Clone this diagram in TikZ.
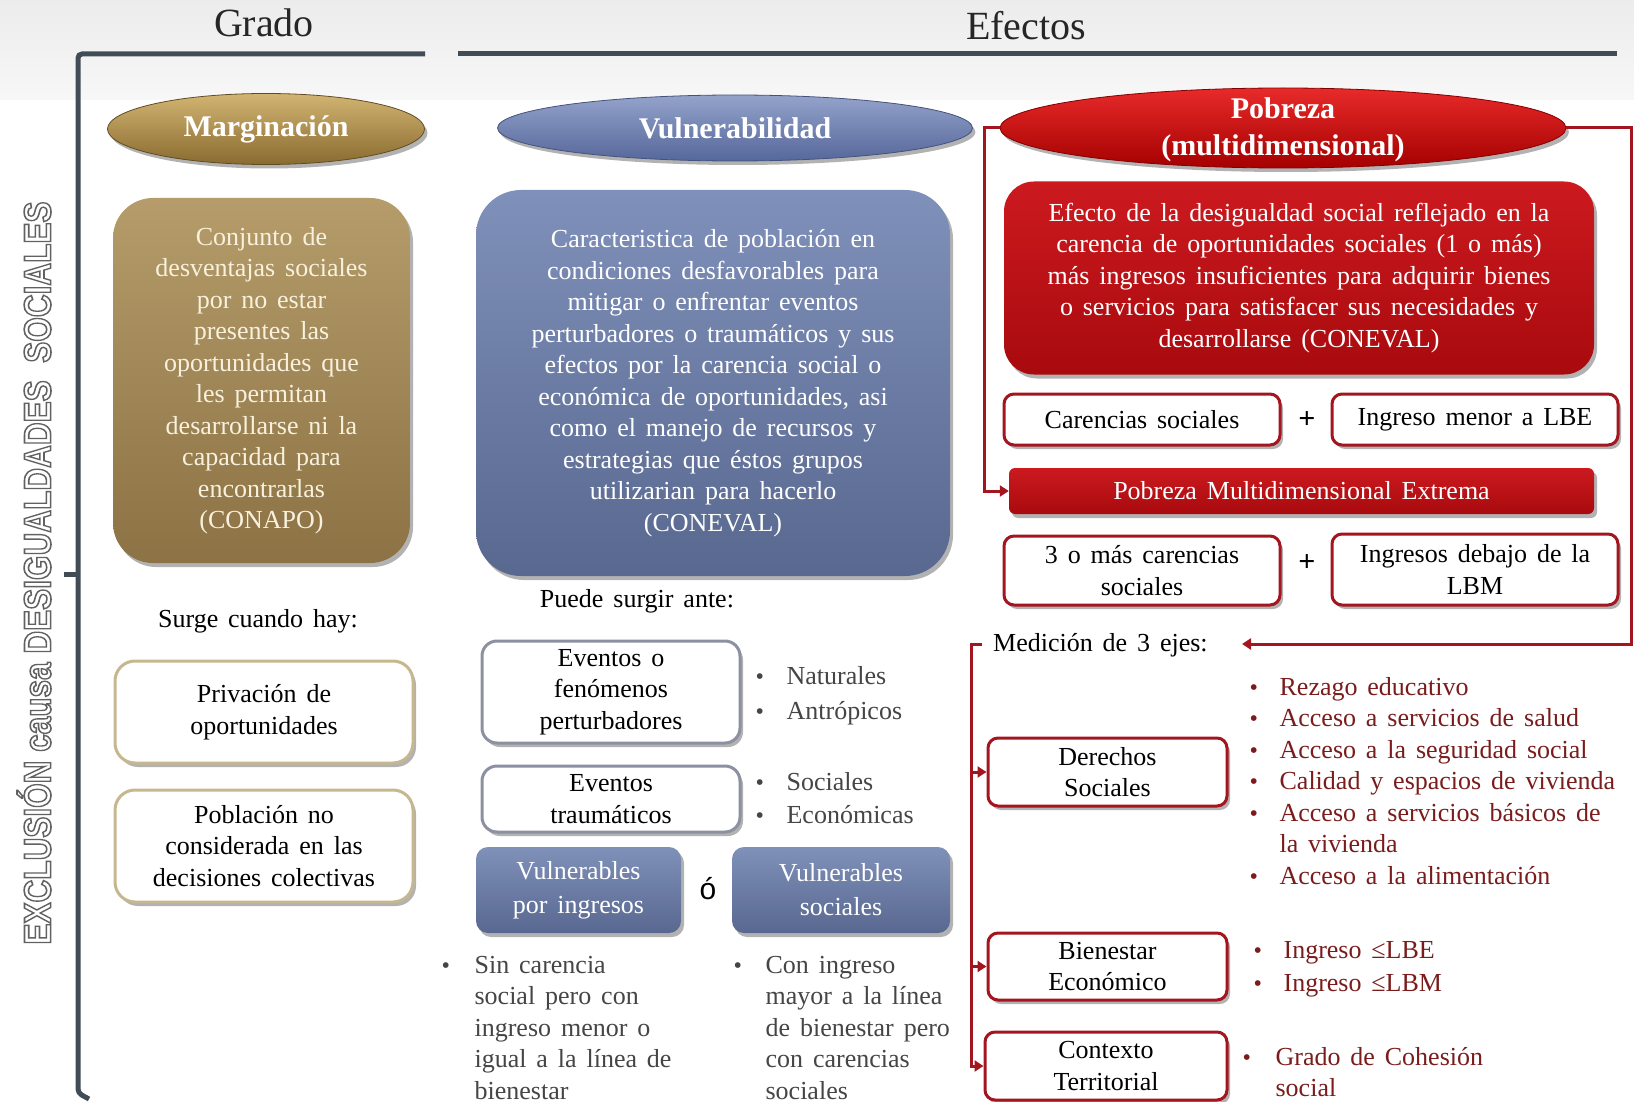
\documentclass[tikz,border=0pt]{standalone}
\usepackage{fontspec}
\usepackage{graphicx}
\setmainfont{Liberation Serif}
\newfontfamily\sansf{Liberation Sans}
\usetikzlibrary{shapes.geometric,shadows,arrows.meta,calc}
\definecolor{framec}{HTML}{414C57}
\definecolor{margL}{HTML}{D2B472}
\definecolor{margD}{HTML}{8A6B30}
\definecolor{margBL}{HTML}{B59C6A}
\definecolor{margBD}{HTML}{8C7244}
\definecolor{cream}{HTML}{F8F1DE}
\definecolor{vulL}{HTML}{93A3CB}
\definecolor{vulD}{HTML}{56679A}
\definecolor{vulBL}{HTML}{7F90BA}
\definecolor{vulBD}{HTML}{58688F}
\definecolor{redL}{HTML}{E82A2A}
\definecolor{redD}{HTML}{A50000}
\definecolor{redBL}{HTML}{CC1A1F}
\definecolor{redBD}{HTML}{A80A0E}
\definecolor{dred}{HTML}{A3151F}
\definecolor{btxt}{HTML}{7A1C1C}
\definecolor{gtxt}{HTML}{454545}
\definecolor{tanb}{HTML}{C6B78F}
\definecolor{blub}{HTML}{8C91A2}
\newcommand\outlinetext[1]{\special{pdf:literal direct 2 Tr 1.6 w 0.38 0.38 0.38 RG}#1\special{pdf:literal direct 0 Tr}}
\newcommand\bul{{\fontsize{24}{24}\selectfont\textbullet}}
\newcommand\widesp{\spaceskip=0.38em plus 0.1em\relax}
\begin{document}
\begin{tikzpicture}[x=1pt,y=-1pt,
  body/.style={font=\fontsize{26}{31.5}\selectfont\widesp, align=center, inner sep=0pt},
  title/.style={font=\fontsize{30}{34}\selectfont\bfseries, text=white, align=center, inner sep=0pt},
  shadowed/.style={drop shadow={shadow xshift=3pt, shadow yshift=-4pt, opacity=0.3, fill=black}},
  ell/.style={ellipse, inner sep=0pt, shadowed},
  frameline/.style={draw=framec, line width=5pt},
  redline/.style={draw=dred, line width=3pt},
  redarrow/.style={redline, -{Triangle[length=9pt,width=11pt]}},
  rbox/.style={body, draw=dred, fill=white, line width=3pt, rounded corners=10pt, shadowed},
  tanbox/.style={body, draw=tanb, fill=white, line width=3pt, rounded corners=20pt, shadowed},
  bbox/.style={body, draw=blub, fill=white, line width=3pt, rounded corners=15pt, shadowed},
  vbox/.style={body, font=\fontsize{26}{34}\selectfont\widesp, shadowed, rounded corners=12pt, top color=vulBL, bottom color=vulBD, text=white},
  plus/.style={font=\fontsize{30}{30}\selectfont\bfseries, inner sep=0pt},
  blist/.style={anchor=base west, inner sep=0pt, font=\fontsize{26}{31.5}\selectfont\widesp},
]
\useasboundingbox (0,0) rectangle (1634,1102);
\fill[top color=gray!15, bottom color=gray!6] (0,0) rectangle (1634,100);

% headers
\node[font=\fontsize{40}{44}\selectfont, text=black!85, inner sep=0pt] (grado) at (264,23) {Grado};
\node[font=\fontsize{40}{44}\selectfont, text=black!85, inner sep=0pt] (efectos) at (1026,26) {Efectos};

% frame
\draw[frameline, rounded corners=4pt] (425,54) -- (78,54) -- (78,1093) -- (89,1099);
\draw[frameline] (78,574) -- (64,574);
\draw[frameline] (458,54) -- (1617,54);

% vertical text
\node[rotate=90, font=\sansf\bfseries\fontsize{38}{40}\selectfont, text=white, inner sep=0pt] (excl) at (34,573) {\scalebox{0.83}[1]{\outlinetext{EXCLUSIÓN causa DESIGUALDADES\ \ SOCIALES}}};

% ellipses
\node[ell, title, minimum width=317pt, minimum height=71pt, top color=margL, bottom color=margD, draw=margD!70!black, line width=0.8pt] (margE) at (266,129) {Marginación};
\node[ell, title, minimum width=475pt, minimum height=66pt, top color=vulL, bottom color=vulD, draw=vulD!80!black, line width=0.8pt] (vulE) at (735,128) {Vulnerabilidad};
\node[ell, minimum width=566pt, minimum height=80pt, top color=redL, bottom color=redD, draw=redD!80!black, line width=0.8pt] (pobE) at (1283,128) {};
\node[title, font=\fontsize{30}{37}\selectfont\bfseries] (pobT) at (1283,130) {Pobreza\\(multidimensional)};

% definition boxes
\node[body, shadowed, rounded corners=40pt, top color=margBL, bottom color=margBD, text=cream, minimum width=297pt, minimum height=365pt] (margB) at (261.5,380.5) {Conjunto de\\desventajas sociales\\por no estar\\presentes las\\oportunidades que\\les permitan\\desarrollarse ni la\\capacidad para\\encontrarlas\\(CONAPO)};
\node[body, shadowed, rounded corners=45pt, top color=vulBL, bottom color=vulBD, text=white, minimum width=474pt, minimum height=386pt] (vulB) at (713,383) {Caracteristica de población en\\condiciones desfavorables para\\mitigar o enfrentar eventos\\perturbadores o traumáticos y sus\\efectos por la carencia social o\\económica de oportunidades, asi\\como el manejo de recursos y\\estrategias que éstos grupos\\utilizarian para hacerlo\\(CONEVAL)};
\node[body, shadowed, rounded corners=30pt, top color=redBL, bottom color=redBD, text=white, minimum width=590pt, minimum height=193pt] (pobB) at (1299,278) {Efecto de la desigualdad social reflejado en la\\carencia de oportunidades sociales (1 o más)\\más ingresos insuficientes para adquirir bienes\\o servicios para satisfacer sus necesidades y\\desarrollarse (CONEVAL)};

% poverty formulas
\node[rbox, minimum width=276pt, minimum height=51pt] (car) at (1142,419.5) {Carencias sociales};
\node[plus] (plus1) at (1307,420) {+};
\node[rbox, minimum width=286pt, minimum height=51pt] (ingE) at (1475,419.5) {Ingreso menor a LBE};
\node[body, shadowed, rounded corners=6pt, top color=redBL, bottom color=redBD, text=white, minimum width=585pt, minimum height=46pt] (ext) at (1301.5,491) {Pobreza Multidimensional Extrema};
\node[rbox, minimum width=276pt, minimum height=69pt] (tres) at (1142,570.5) {3 o más carencias\\sociales};
\node[plus] (plus2) at (1307,563) {+};
\node[rbox, minimum width=286pt, minimum height=71pt] (ingM) at (1475,569.5) {Ingresos debajo de la\\LBM};

% medicion
\node[body, anchor=west] (med) at (993,645) {Medición de 3 ejes:};
\coordinate (medTip) at (1242,644);
\coordinate (mStub) at (982,644);
\coordinate (mTop) at (971,644);
\node[rbox, minimum width=239pt, minimum height=68pt] (der) at (1107.5,772) {Derechos\\Sociales};
\node[rbox, minimum width=239pt, minimum height=67pt] (bien) at (1107.5,966.5) {Bienestar\\Económico};
\node[rbox, minimum width=242pt, minimum height=68pt] (ctx) at (1106,1066) {Contexto\\Territorial};

% red connectors
\draw[redarrow] (pobE.west) -- ++(-15,0) |- (ext.west);
\draw[redarrow] (pobE.east) -- ++(65,0) |- (medTip);
\draw[redarrow] (mStub) -- (mTop) |- (ctx.west);
\draw[redarrow] (der.west -| mTop) -- (der.west);
\draw[redarrow] (bien.west -| mTop) -- (bien.west);

% red bullet lists
\node[blist, text=btxt] (ejeA) at (1249.5,695) {\begin{tabular}[t]{@{}l@{\hspace{21.5pt}}l@{}}
\bul & Rezago educativo\\
\bul & Acceso a servicios de salud\\
\bul & Acceso a la seguridad social\\
\bul & Calidad y espacios de vivienda\\
\bul & Acceso a servicios básicos de\\
 & la vivienda\\
\bul & Acceso a la alimentación
\end{tabular}};
\node[blist, text=btxt] (ejeB) at (1253.5,958) {\begin{tabular}[t]{@{}l@{\hspace{21.5pt}}l@{}}
\bul & Ingreso ≤LBE\\[1.5pt]
\bul & Ingreso ≤LBM
\end{tabular}};
\node[blist, text=btxt] (ejeC) at (1242.5,1065) {\begin{tabular}[t]{@{}l@{\hspace{24.5pt}}l@{}}
\bul & Grado de Cohesión\\
 & social
\end{tabular}};

% left column
\node[body] (surge) at (258,621) {Surge cuando hay:};
\node[tanbox, minimum width=298pt, minimum height=102pt] (priv) at (264,712) {Privación de\\oportunidades};
\node[tanbox, minimum width=298pt, minimum height=112pt] (pobl) at (264,846) {Población no\\considerada en las\\decisiones colectivas};

% middle column
\node[body] (puede) at (637,601) {Puede surgir ante:};
\node[bbox, minimum width=258pt, minimum height=102pt] (evA) at (611,692) {Eventos o\\fenómenos\\perturbadores};
\node[bbox, minimum width=258pt, minimum height=66pt] (evB) at (611,799) {Eventos\\traumáticos};
\node[blist, text=gtxt] (natl) at (755.5,684) {\begin{tabular}[t]{@{}l@{\hspace{22.5pt}}l@{}}
\bul & Naturales\\[3.5pt]
\bul & Antrópicos
\end{tabular}};
\node[blist, text=gtxt] (socl) at (755.5,790) {\begin{tabular}[t]{@{}l@{\hspace{22.5pt}}l@{}}
\bul & Sociales\\[1.5pt]
\bul & Económicas
\end{tabular}};
\node[vbox, minimum width=205pt, minimum height=86pt] (vIng) at (578.5,890) {Vulnerables\\por ingresos};
\node[font=\sansf\fontsize{30}{30}\selectfont, inner sep=0pt] (oo) at (708,889) {ó};
\node[vbox, minimum width=218pt, minimum height=86pt] (vSoc) at (841,890) {Vulnerables\\sociales};
\node[blist, text=gtxt] (sinc) at (441.5,973) {\begin{tabular}[t]{@{}l@{\hspace{24.5pt}}l@{}}
\bul & Sin carencia\\
 & social pero con\\
 & ingreso menor o\\
 & igual a la línea de\\
 & bienestar
\end{tabular}};
\node[blist, text=gtxt] (coni) at (733.5,973) {\begin{tabular}[t]{@{}l@{\hspace{23.5pt}}l@{}}
\bul & Con ingreso\\
 & mayor a la línea\\
 & de bienestar pero\\
 & con carencias\\
 & sociales
\end{tabular}};
\end{tikzpicture}
\end{document}
